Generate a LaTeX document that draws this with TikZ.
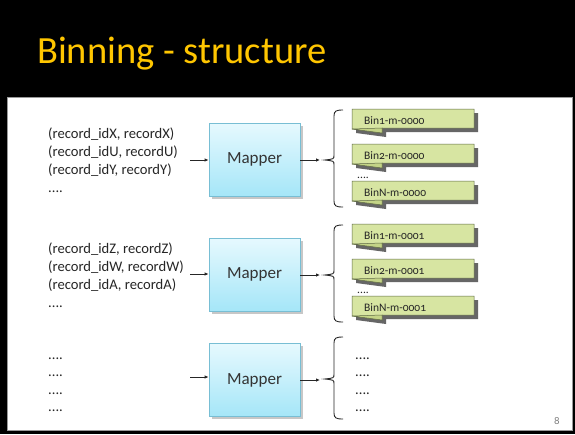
\documentclass[tikz,border=0pt]{standalone}
\usepackage{fontspec}
\setmainfont{Carlito}[Numbers=OldStyle]
\usetikzlibrary{arrows.meta}
\definecolor{titleyellow}{RGB}{255,198,0}
\definecolor{mapborder}{RGB}{120,190,212}
\definecolor{maptop}{RGB}{230,249,254}
\definecolor{mapbot}{RGB}{165,230,248}
\definecolor{bingreen}{RGB}{215,229,162}
\definecolor{binfold}{RGB}{196,212,135}
\definecolor{binborder}{RGB}{95,105,70}
\newcommand\fourdots{....}
\tikzset{
  titletext/.style={font=\fontsize{38.5}{42}\selectfont, text=titleyellow, inner sep=0},
  rec/.style={font=\fontsize{14.6}{18}\selectfont, text=black!85, inner sep=0},
  mapper/.style={draw=mapborder, line width=0.8pt, top color=maptop, bottom color=mapbot,
    minimum width=91pt, minimum height=73pt, inner sep=0,
    font=\fontsize{17}{20}\selectfont, text=black!80},
  bintext/.style={font=\fontsize{11.5}{13}\selectfont, text=black!85, inner sep=0},
  arr/.style={line width=0.8pt, black!85, -{Latex[length=4pt,width=3.5pt]}},
  bracestyle/.style={line width=0.9pt, black!85},
  shadowbox/.style={fill=black!22}
}
\newcommand\binnote[3]{%
  \begin{scope}[shift={(352,#2)}]
    \fill[black!60] (4,4) -- (126,4) -- (126,23) -- (34,23) -- (34,28) -- (4,24) -- cycle;
    \draw[binborder, line width=0.5pt, fill=bingreen] (0,0) -- (122,0) -- (122,19) -- (30,19) -- (30,24) -- (0,20) -- cycle;
    \draw[binborder, line width=0.5pt, fill=binfold] (0,20) -- (30,19) -- (30,24) -- cycle;
    \node[bintext, anchor=base west] (#1) at (12,15) {#3};
  \end{scope}}
\newcommand\bracket[4]{% name, top, tip, bottom
  \coordinate (#1) at (325,#3);
  \draw[bracestyle] (343,#2) .. controls (336,#2) and (334,{#2+1}) .. (334,{#2+6})
    -- (334,{#3-5}) .. controls (334,{#3-1}) .. (#1)
    .. controls (334,{#3+1}) .. (334,{#3+5})
    -- (334,{#4-6}) .. controls (334,{#4-1}) and (336,#4) .. (343,#4);}
\begin{document}
\begin{tikzpicture}[x=1pt,y=-1pt]
\useasboundingbox (0,0) rectangle (575,434);
\fill[black] (0,0) rectangle (575,434);
\draw[black!40, line width=0.8pt, fill=white] (7.5,97.5) rectangle (572.5,430);
\node[titletext, anchor=base west] (title) at (37,63) {Binning - structure};

% ---------- group 1
\foreach \t [count=\i] in {{(record\_idX, recordX)},{(record\_idU, recordU)},{(record\_idY, recordY)},{\fourdots}}
  \node[rec, anchor=base west] (ta\i) at (48,{138.5+18*(\i-1)}) {\t};
\fill[shadowbox] (211.5,125.5) rectangle (302.5,198.5);
\node[mapper] (m1) at (254.5,159.5) {Mapper};
\coordinate (i1) at (190,160);
\coordinate (o1) at (320,160);
\draw[arr] (i1) -- (i1 -| m1.west);
\draw[arr] (m1.east |- o1) -- (o1);
\bracket{br1}{110}{160}{207}
\binnote{b11}{109}{Bin1-m-0000}
\binnote{b12}{144}{Bin2-m-0000}
\node[bintext, anchor=base west] (d1) at (357,178) {\fourdots};
\binnote{b13}{181}{BinN-m-0000}

% ---------- group 2
\foreach \t [count=\i] in {{(record\_idZ, recordZ)},{(record\_idW, recordW)},{(record\_idA, recordA)},{\fourdots}}
  \node[rec, anchor=base west] (tb\i) at (48,{253.5+18*(\i-1)}) {\t};
\fill[shadowbox] (211.5,240.5) rectangle (302.5,313.5);
\node[mapper] (m2) at (254.5,274.5) {Mapper};
\coordinate (i2) at (190,274);
\coordinate (o2) at (320,275);
\draw[arr] (i2) -- (i2 -| m2.west);
\draw[arr] (m2.east |- o2) -- (o2);
\bracket{br2}{225}{275}{322}
\binnote{b21}{224}{Bin1-m-0001}
\binnote{b22}{259}{Bin2-m-0001}
\node[bintext, anchor=base west] (d2) at (357,293) {\fourdots};
\binnote{b23}{296}{BinN-m-0001}

% ---------- group 3
\foreach \i/\y in {1/359,2/376.5,3/394,4/411.5}{
  \node[rec, anchor=base west] (tc\i) at (48,\y) {\fourdots};
  \node[rec, anchor=base west] (rc\i) at (355,\y) {\fourdots};
}
\fill[shadowbox] (211.5,345.5) rectangle (302.5,418.5);
\node[mapper] (m3) at (254.5,380) {Mapper};
\coordinate (i3) at (190,377);
\coordinate (o3) at (320,380);
\draw[arr] (i3) -- (i3 -| m3.west);
\draw[arr] (m3.east |- o3) -- (o3);
\bracket{br3}{337}{379}{419}

\node[font=\fontsize{11}{13}\selectfont, text=black!50, anchor=base] (pg) at (557,424) {8};
\end{tikzpicture}
\end{document}
